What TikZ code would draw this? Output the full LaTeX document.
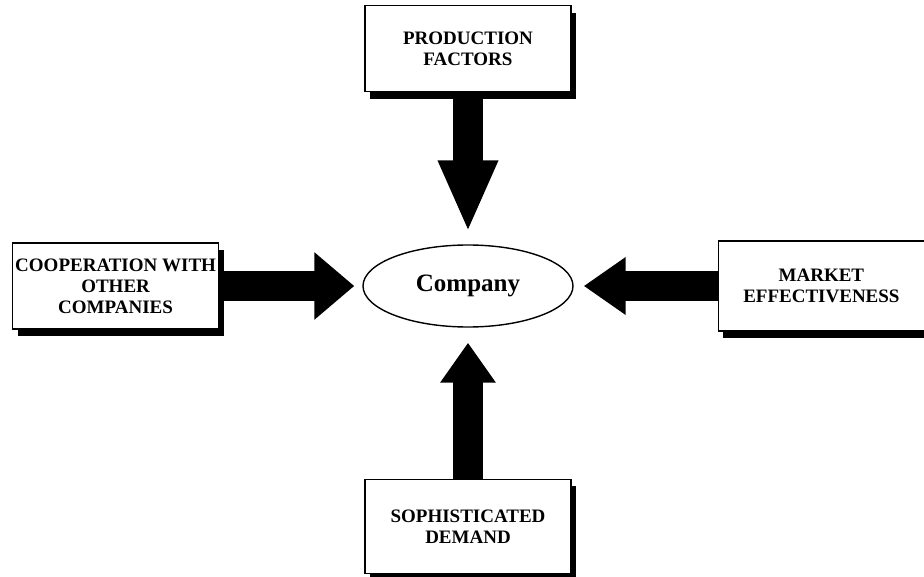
\documentclass[tikz,border=0pt]{standalone}
\usepackage{fontspec}
\setmainfont{Liberation Serif}
\usetikzlibrary{positioning,shapes.geometric,shadows,arrows.meta}

\begin{document}
\begin{tikzpicture}[x=1pt,y=-1pt,
    factor/.style={draw,line width=1.4pt,fill=white,align=center,
      minimum width=206pt,minimum height=86pt,inner sep=1pt,
      font=\fontsize{19}{21}\selectfont\bfseries,
      drop shadow={opacity=1,fill=black,shadow xshift=5pt,shadow yshift=-7pt}},
    push/.style={line width=30pt,
      -{Triangle[width=55pt,length=42pt]}}]
  \useasboundingbox (0,0) rectangle (924,577);
  \node[ellipse,draw,line width=1.4pt,minimum width=210pt,minimum height=82pt,
    font=\fontsize{25}{28}\selectfont\bfseries] (company) at (468,286) {Company};
  \node[factor,above=152pt of company] (prod) {PRODUCTION\\FACTORS};
  \node[factor,left=143pt of company] (coop) {COOPERATION WITH\\OTHER\\COMPANIES};
  \node[factor,right=144pt of company,minimum height=90pt] (market) {MARKET\\EFFECTIVENESS};
  \node[factor,below=151pt of company,minimum height=94pt] (demand) {SOPHISTICATED\\DEMAND};
  % arrows into the company
  \draw[push,-{Triangle[width=55pt,length=72pt]},shorten >=12pt] (prod) -- (company);
  \draw[push,-{Triangle[width=65pt,length=40pt]},shorten >=8pt] (coop) -- (company);
  \draw[push,shorten >=10pt] (market) -- (company);
  \draw[push,-{Triangle[width=53pt,length=40pt]},shorten >=15pt] (demand) -- (company);
\end{tikzpicture}
\end{document}
